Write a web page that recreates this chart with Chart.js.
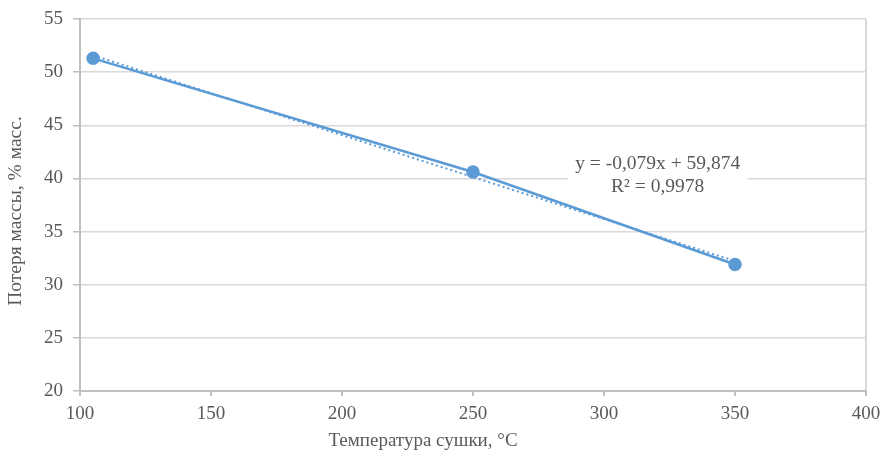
<!DOCTYPE html>
<html>
<head>
<meta charset="utf-8">
<style>
  html, body { margin: 0; padding: 0; background: #ffffff; }
  #wrap { width: 882px; height: 455px; position: relative; }
</style>
<script src="https://cdn.jsdelivr.net/npm/chart.js@4/dist/chart.umd.min.js"></script>
</head>
<body>
<div id="wrap"><canvas id="chart" width="882" height="455"></canvas></div>
<script>
// Drying temperature, °C
const temperatures = [105, 250, 350];
// Mass loss, % by mass
const massLoss = [51.3, 40.6, 31.9];

// Linear trendline as stated in the label
const trendSlope = -0.079;
const trendIntercept = 59.874;
const trendR2 = 0.9978;
const trendLabel = ['y = -0,079x + 59,874', 'R² = 0,9978'];

const xTicks = [100, 150, 200, 250, 300, 350, 400];
const yTicks = [20, 25, 30, 35, 40, 45, 50, 55];

const xTitle = 'Температура сушки, °C';
const yTitle = 'Потеря массы, % масс.';

const lineColor = '#5B9BD5';
const textColor = '#595959';
const serif = "'Liberation Serif', 'Times New Roman', serif";

const trendPoints = [temperatures[0], temperatures[temperatures.length - 1]]
  .map(x => ({ x, y: trendSlope * x + trendIntercept }));

// Equation box and axis titles, drawn on the canvas
const annotations = {
  id: 'annotations',
  afterDatasetsDraw(chart) {
    const { ctx, scales } = chart;
    const cx = scales.x.getPixelForValue(320.5);
    const cy = scales.y.getPixelForValue(39.8);
    ctx.save();
    ctx.font = '19.5px ' + serif;
    ctx.fillStyle = '#ffffff';
    ctx.fillRect(cx - 90, cy - 31, 180, 50);
    ctx.fillStyle = textColor;
    ctx.textAlign = 'center';
    ctx.textBaseline = 'middle';
    ctx.fillText(trendLabel[0], cx, cy - 17);
    ctx.fillText(trendLabel[1], cx, cy + 6);
    ctx.restore();
  },
  afterDraw(chart) {
    const { ctx } = chart;
    ctx.save();
    ctx.fillStyle = textColor;
    ctx.textAlign = 'center';
    ctx.textBaseline = 'middle';
    ctx.font = '19px ' + serif;
    ctx.fillText(xTitle, 423, 441);
    ctx.translate(16, 211);
    ctx.rotate(-Math.PI / 2);
    ctx.font = '19.5px ' + serif;
    ctx.fillText(yTitle, 0, 0);
    ctx.restore();
  }
};

new Chart(document.getElementById('chart'), {
  type: 'scatter',
  data: {
    datasets: [
      {
        label: 'Потеря массы',
        data: temperatures.map((x, i) => ({ x, y: massLoss[i] })),
        showLine: true,
        borderColor: lineColor,
        backgroundColor: lineColor,
        borderWidth: 2.5,
        pointRadius: 5.5,
        pointHoverRadius: 5.5,
        order: 1
      },
      {
        label: 'Линейная',
        data: trendPoints,
        showLine: true,
        borderColor: lineColor,
        borderWidth: 2,
        borderDash: [2, 3],
        pointRadius: 0,
        order: 2
      }
    ]
  },
  options: {
    responsive: false,
    animation: false,
    events: [],
    layout: { padding: { top: 19, right: 16, bottom: 0, left: 0 } },
    plugins: {
      legend: { display: false },
      tooltip: { enabled: false }
    },
    scales: {
      x: {
        type: 'linear',
        min: 100,
        max: 400,
        afterBuildTicks(scale) { scale.ticks = xTicks.map(v => ({ value: v })); },
        afterFit(scale) {
          scale.height = 64;
          scale.paddingLeft = 0;
          scale.paddingRight = 0;
        },
        grid: {
          drawOnChartArea: true,
          drawTicks: true,
          tickLength: 5,
          lineWidth: 2,
          color: ctx => (ctx.tick && ctx.tick.value === 400 ? '#D9D9D9' : 'rgba(0,0,0,0)'),
          tickColor: '#BFBFBF'
        },
        border: { display: true, color: '#BFBFBF', width: 2 },
        ticks: { color: textColor, font: { family: serif, size: 19 }, padding: 7, maxRotation: 0 },
        title: { display: false }
      },
      y: {
        min: 20,
        max: 55,
        afterBuildTicks(scale) { scale.ticks = yTicks.map(v => ({ value: v })); },
        afterFit(scale) {
          scale.width = 80;
          scale.paddingTop = 0;
          scale.paddingBottom = 0;
        },
        grid: { color: '#D9D9D9', lineWidth: 1.5, drawTicks: true, tickLength: 7, tickColor: '#BFBFBF' },
        border: { display: true, color: '#BFBFBF', width: 2 },
        ticks: { color: textColor, font: { family: serif, size: 19 }, padding: 10 },
        title: { display: false }
      }
    }
  },
  plugins: [annotations]
});
</script>
</body>
</html>
